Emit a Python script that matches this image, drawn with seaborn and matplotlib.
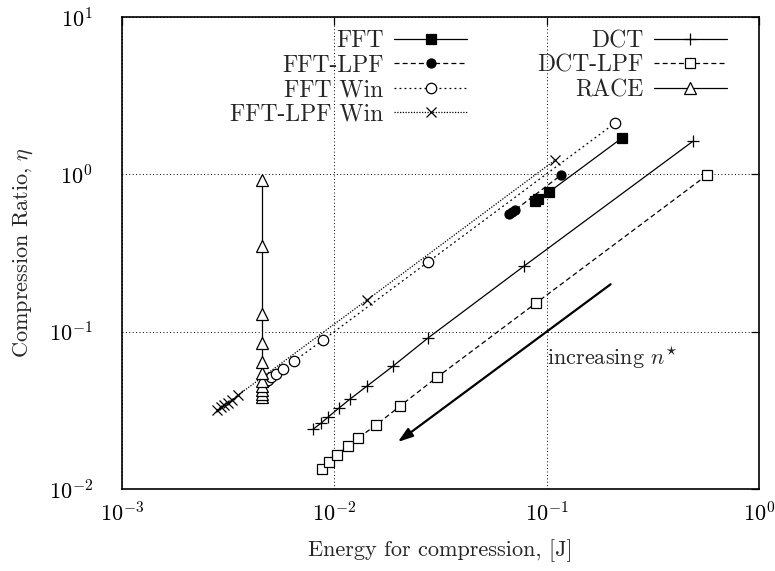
import numpy as np
import pandas as pd
import matplotlib
matplotlib.use("Agg")
import matplotlib.pyplot as plt
from matplotlib.ticker import NullLocator, LogLocator
import seaborn as sns

# ---- data ----
fft_E = [0.088, 0.091, 0.1026, 0.226]
fft_eta = [0.68, 0.70, 0.772, 1.70]

fftlpf_E = [0.0665, 0.0687, 0.071, 0.117]
fftlpf_eta = [0.56, 0.575, 0.593, 0.99]

fftwin_E = [0.00472, 0.00487, 0.00503, 0.00531, 0.00573, 0.00646, 0.00885, 0.0276, 0.210]
fftwin_eta = [0.0479, 0.0492, 0.0514, 0.0537, 0.0578, 0.0650, 0.0885, 0.277, 2.12]

fftlpfwin_E = [0.0028, 0.00292, 0.00303, 0.00315, 0.0033, 0.00352, 0.01425, 0.1096]
fftlpfwin_eta = [0.0318, 0.0330, 0.0342, 0.0354, 0.0367, 0.0395, 0.159, 1.233]

dct_E = [0.00794, 0.00866, 0.00933, 0.01052, 0.01186, 0.01425, 0.0189, 0.0276, 0.0782, 0.490]
dct_eta = [0.0240, 0.0262, 0.0286, 0.0327, 0.0373, 0.0451, 0.0604, 0.0911, 0.261, 1.628]

dctlpf_E = [0.00875, 0.00944, 0.0103, 0.0116, 0.01293, 0.01572, 0.0204, 0.0305, 0.0891, 0.5695]
dctlpf_eta = [0.01338, 0.01483, 0.01643, 0.01874, 0.02107, 0.02547, 0.0337, 0.0514, 0.152, 0.99]

race_E = [0.00455, 0.00455, 0.00455, 0.00455, 0.00455, 0.00455, 0.00455, 0.00455, 0.00455, 0.00455, 0.00455]
race_eta = [0.0384, 0.0401, 0.0425, 0.0451, 0.0485, 0.0546, 0.0641, 0.0846, 0.1294, 0.350, 0.920]

series = [
    ("FFT", fft_E, fft_eta),
    ("FFT-LPF", fftlpf_E, fftlpf_eta),
    ("FFT Win", fftwin_E, fftwin_eta),
    ("FFT-LPF Win", fftlpfwin_E, fftlpfwin_eta),
    ("DCT", dct_E, dct_eta),
    ("DCT-LPF", dctlpf_E, dctlpf_eta),
    ("RACE", race_E, race_eta),
]

styles = {
    "FFT": dict(ls="-", marker="s", mfc="black", ms=6.5),
    "FFT-LPF": dict(ls=(0, (4, 2.5)), marker="o", mfc="black", ms=6.5),
    "FFT Win": dict(ls=(0, (1.5, 2.5)), marker="o", mfc="white", ms=7.5),
    "FFT-LPF Win": dict(ls=(0, (1, 1.2)), marker="x", mfc="none", ms=7.5),
    "DCT": dict(ls="-", marker="+", mfc="none", ms=8),
    "DCT-LPF": dict(ls=(0, (4, 2.5)), marker="s", mfc="white", ms=7.5),
    "RACE": dict(ls="-", marker="^", mfc="white", ms=8),
}

frames = []
for name, E, eta in series:
    frames.append(pd.DataFrame({"E": E, "eta": eta, "method": name}))
df = pd.concat(frames, ignore_index=True)

sns.set_style("white")
plt.rcParams["font.family"] = ["cmr10", "DejaVu Serif"]
plt.rcParams["mathtext.fontset"] = "cm"
plt.rcParams["axes.formatter.use_mathtext"] = True
plt.rcParams["axes.unicode_minus"] = False

fig = plt.figure(figsize=(7.75, 5.71), dpi=100)
ax = fig.add_axes([122 / 775, 1 - 489 / 571, 637 / 775, 472 / 571])

for name, E, eta in series:
    st = styles[name]
    sub = df[df["method"] == name]
    sns.lineplot(data=sub, x="E", y="eta", ax=ax, sort=False, estimator=None,
                 color="black", lw=0.9, linestyle=st["ls"], marker=st["marker"],
                 markersize=st["ms"], markerfacecolor=st["mfc"],
                 markeredgecolor="black", markeredgewidth=0.9, label=name)

ax.set_xscale("log")
ax.set_yscale("log")
ax.set_xlim(1e-3, 1e0)
ax.set_ylim(1e-2, 1e1)
ax.xaxis.set_major_locator(LogLocator(base=10, numticks=10))
ax.yaxis.set_major_locator(LogLocator(base=10, numticks=10))
ax.xaxis.set_minor_locator(NullLocator())
ax.yaxis.set_minor_locator(NullLocator())

ax.grid(True, which="major", color="black", linestyle=(0, (1, 2.5)), lw=0.7)
for s in ax.spines.values():
    s.set_visible(True)
    s.set_color("black")
    s.set_linewidth(1.2)
ax.tick_params(which="major", direction="in", length=6, width=0.9,
               top=True, right=True, labelsize=16, colors="black")
ax.tick_params(axis="x", pad=9)
ax.tick_params(axis="y", pad=21)

ax.set_xlabel("Energy for compression, [J]", fontsize=16, labelpad=10)
ax.set_ylabel(r"Compression Ratio, $\eta$", fontsize=16, labelpad=10)

ax.annotate("", xy=(0.0199, 0.0199), xytext=(0.2, 0.2),
            arrowprops=dict(arrowstyle="-|>,head_length=0.9,head_width=0.3",
                            lw=1.6, color="black", shrinkA=0, shrinkB=0))
ax.text(0.1, 0.068, r"increasing $n^{\star}$", fontsize=16, ha="left", va="center")

leg = ax.legend(ncol=2, loc="upper right", bbox_to_anchor=((727 - 122) / 637, (489 - 30) / 472),
                frameon=False, markerfirst=False, fontsize=17, handlelength=3.1,
                handletextpad=0.45, labelspacing=0.1, columnspacing=2.95,
                borderaxespad=0, borderpad=0)

fig.savefig("out.png", dpi=100)
